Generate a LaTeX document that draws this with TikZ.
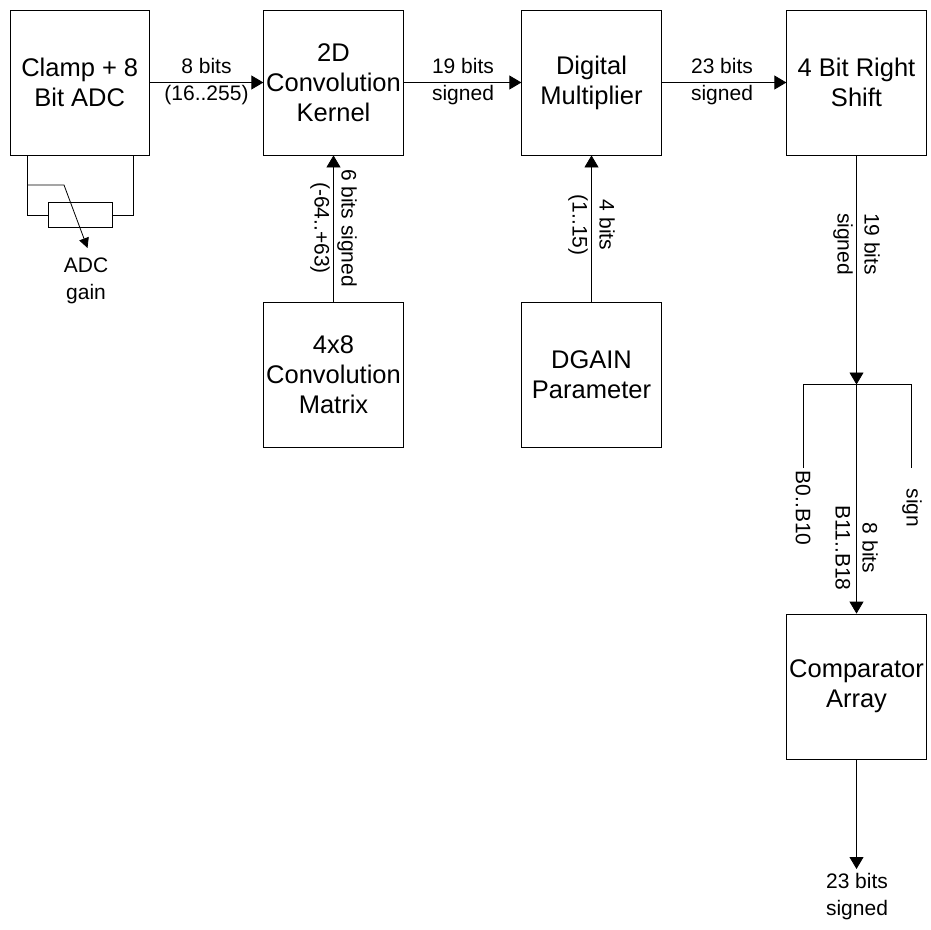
\documentclass[tikz,border=0pt]{standalone}
\usepackage{fontspec}
\setmainfont{Liberation Sans}
\usetikzlibrary{arrows.meta}

\begin{document}
\begin{tikzpicture}[
    x=1pt, y=-1pt,
    >={Triangle[length=12pt,width=14pt]},
    line width=0.8pt,
    blockbox/.style={draw, minimum width=139.5pt, minimum height=145pt, inner sep=0pt, align=center, font=\fontsize{25.5}{30}\selectfont},
    sidelabel/.style={inner sep=0pt, align=center, font=\fontsize{21}{27}\selectfont},
    downlabel/.style={sidelabel, rotate=-90}
]
  \useasboundingbox (0,0) rectangle (931,929);

  % blocks
  \node[blockbox] (adc) at (79.75,82.5)    {Clamp + 8\\Bit ADC};
  \node[blockbox] (conv) at (333.5,82.5)   {2D\\Convolution\\Kernel};
  \node[blockbox] (mult) at (591.5,82.5)   {Digital\\Multiplier};
  \node[blockbox] (shift) at (856.5,82.5)  {4 Bit Right\\Shift};
  \node[blockbox] (matrix) at (333.5,374.5) {4x8\\Convolution\\Matrix};
  \node[blockbox] (dgain) at (591.5,374.5) {DGAIN\\Parameter};
  \node[blockbox] (comp) at (856.5,686.5)  {Comparator\\Array};

  % potentiometer
  \node[draw, minimum width=64pt, minimum height=25pt, inner sep=0pt] (pot) at (80,215) {};
  \coordinate (potl) at (27,155);
  \coordinate (potr) at (133,155);
  \coordinate (wiper) at (27,185);
  \coordinate (wiperk) at (64,185);
  \coordinate (wipere) at (87.5,248);
  \node[sidelabel] (gain) at (86,280.5) {ADC\\gain};

  % split
  \coordinate (split) at (856.5,384.5);
  \coordinate (splitl) at (803,384.5);
  \coordinate (splitr) at (911,384.5);
  \coordinate (bzero) at (803,468);
  \coordinate (bsign) at (911,468);
  \coordinate (outend) at (856.5,869);

  % edges
  \draw[->] (adc.east |- 0,82.5) -- (conv.west |- 0,82.5);
  \draw[->] (conv) ++(69.75,0) -- (mult.west);
  \draw[->] (mult) ++(69.75,0) -- (shift.west);
  \draw[->] (matrix.north) -- (conv.south);
  \draw[->] (dgain.north) -- (mult.south);
  \draw[->] (shift.south) -- (split);
  \draw[->] (split) -- (comp.north);
  \draw[->] (comp.south) -- (outend);
  \draw (bzero) -- (splitl) -- (splitr) -- (bsign);
  \draw (potl) -- (potl |- pot.west) -- (pot.west);
  \draw (potr) -- (potr |- pot.east) -- (pot.east);
  \draw[-{Triangle[length=10pt,width=10pt]}] (wiper) -- (wiperk) -- (wipere);

  % labels
  \node[sidelabel] (adcbits) at (206.5,81.5) {8 bits\\(16..255)};
  \node[sidelabel] (convbits) at (463,81.5) {19 bits\\signed};
  \node[sidelabel] (multbits) at (722,81.5) {23 bits\\signed};
  \node[downlabel] (matbits) at (333.5,228) {6 bits signed\\(-64..+63)};
  \node[downlabel] (dgainbits) at (591.5,225) {4 bits\\(1..15)};
  \node[downlabel] (shiftbits) at (856.5,244) {19 bits\\signed};
  \node[downlabel] (highbits) at (856.5,548) {8 bits\\B11..B18};
  \node[downlabel] (lowbits) at (803,508) {B0..B10};
  \node[downlabel] (signbit) at (912,508) {sign};
  \node[sidelabel] (outbits) at (857,897) {23 bits\\signed};
\end{tikzpicture}
\end{document}
